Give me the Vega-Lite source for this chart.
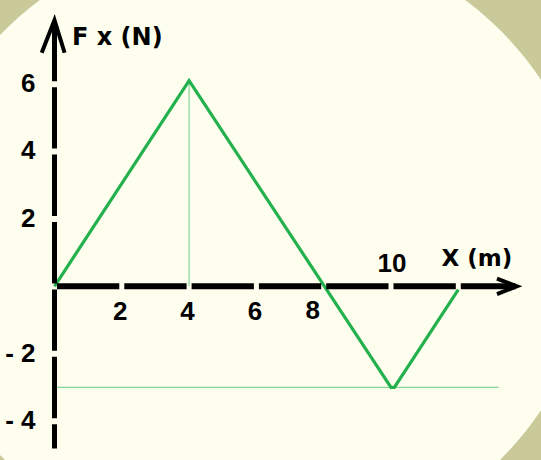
{
  "$schema": "https://vega.github.io/schema/vega-lite/v6.json",
  "width": 541,
  "height": 460,
  "autosize": {"type": "none"},
  "padding": 0,
  "background": "#c9c99a",
  "config": {"view": {"stroke": null}},
  "datasets": {
    "bg": [{"x": 5.884, "y": 1.226}],
    "force": [
      {"x": 0, "y": 0},
      {"x": 4, "y": 6.1},
      {"x": 10, "y": -3},
      {"x": 10.1, "y": -3},
      {"x": 12, "y": -0.1}
    ],
    "guides": [
      {"x": 4, "x2": 4, "y": 0, "y2": 6.1},
      {"x": 0, "x2": 13.2, "y": -3, "y2": -3}
    ],
    "xaxis": [{"x": 0, "x2": 13.7, "y": 0}],
    "yaxis": [{"x": 0, "y": -4.81, "y2": 7.85}],
    "arrows": [
      {"arrow": "y", "i": 1, "x": -0.38, "y": 6.93},
      {"arrow": "y", "i": 2, "x": 0, "y": 7.9},
      {"arrow": "y", "i": 3, "x": 0.3, "y": 6.93},
      {"arrow": "x", "i": 1, "x": 13.15, "y": 0.23},
      {"arrow": "x", "i": 2, "x": 13.74, "y": 0},
      {"arrow": "x", "i": 3, "x": 13.15, "y": -0.23}
    ],
    "ylabels": [
      {"x": 0, "y": 6, "label": "6"},
      {"x": 0, "y": 4, "label": "4"},
      {"x": 0, "y": 2, "label": "2"},
      {"x": 0, "y": -2, "label": "- 2"},
      {"x": 0, "y": -4, "label": "- 4"}
    ],
    "xlabels": [
      {"x": 2, "y": 0, "label": "2"},
      {"x": 4, "y": 0, "label": "4"},
      {"x": 6, "y": 0, "label": "6"}
    ],
    "x8": [{"x": 8, "y": 0, "label": "8"}],
    "x10": [{"x": 10, "y": 0, "label": "10"}],
    "xtitle": [{"x": 11.5, "y": 0, "label": "X (m)"}],
    "ytitle": [{"x": 0, "y": 7.9, "label": "F x (N)"}]
  },
  "encoding": {
    "x": {"field": "x", "type": "quantitative", "axis": null, "scale": {"domain": [-1.6196, 14.4577], "nice": false, "zero": false}},
    "y": {"field": "y", "type": "quantitative", "axis": null, "scale": {"domain": [-5.1543, 8.4955], "nice": false, "zero": false}}
  },
  "layer": [
    {
      "data": {"name": "bg"},
      "mark": {"type": "point", "shape": "M-1,0A1,0.928,0,1,0,1,0A1,0.928,0,1,0,-1,0Z", "filled": true, "fill": "#fdfeee", "opacity": 1, "strokeWidth": 0, "size": 459684}
    },
    {
      "data": {"name": "guides"},
      "mark": {"type": "rule", "color": "#86d69a", "strokeWidth": 1.2},
      "encoding": {"x2": {"field": "x2"}, "y2": {"field": "y2"}}
    },
    {
      "data": {"name": "force"},
      "mark": {"type": "line", "color": "#22b14c", "strokeWidth": 3.2}
    },
    {
      "data": {"name": "xaxis"},
      "mark": {"type": "rule", "color": "black", "strokeWidth": 6, "strokeDash": [62.3, 5], "strokeDashOffset": 64.8},
      "encoding": {"x2": {"field": "x2"}}
    },
    {
      "data": {"name": "yaxis"},
      "mark": {"type": "rule", "color": "black", "strokeWidth": 5, "strokeDash": [61.4, 6], "strokeDashOffset": 37.2},
      "encoding": {"y2": {"field": "y2"}}
    },
    {
      "data": {"name": "arrows"},
      "mark": {"type": "line", "color": "black", "strokeWidth": 4, "strokeJoin": "miter"},
      "encoding": {"detail": {"field": "arrow"}, "order": {"field": "i"}}
    },
    {
      "data": {"name": "ylabels"},
      "mark": {"type": "text", "align": "right", "baseline": "middle", "dx": -19, "font": "Liberation Sans", "fontWeight": "bold", "fontSize": 26, "color": "black"},
      "encoding": {"text": {"field": "label"}}
    },
    {
      "data": {"name": "xlabels"},
      "mark": {"type": "text", "align": "center", "baseline": "middle", "dx": -1.5, "dy": 25.5, "font": "Liberation Sans", "fontWeight": "bold", "fontSize": 26, "color": "black"},
      "encoding": {"text": {"field": "label"}}
    },
    {
      "data": {"name": "x8"},
      "mark": {"type": "text", "align": "center", "baseline": "middle", "dx": -11, "dy": 25, "font": "Liberation Sans", "fontWeight": "bold", "fontSize": 26, "color": "black"},
      "encoding": {"text": {"field": "label"}}
    },
    {
      "data": {"name": "x10"},
      "mark": {"type": "text", "align": "center", "baseline": "middle", "dx": 1, "dy": -22, "font": "Liberation Sans", "fontWeight": "bold", "fontSize": 26, "color": "black"},
      "encoding": {"text": {"field": "label"}}
    },
    {
      "data": {"name": "xtitle"},
      "mark": {"type": "text", "align": "left", "baseline": "middle", "dy": -27, "font": "DejaVu Sans", "fontWeight": "bold", "fontSize": 23, "color": "black"},
      "encoding": {"text": {"field": "label"}}
    },
    {
      "data": {"name": "ytitle"},
      "mark": {"type": "text", "align": "left", "baseline": "middle", "dx": 17.5, "dy": 18, "font": "DejaVu Sans", "fontWeight": "bold", "fontSize": 24, "color": "black"},
      "encoding": {"text": {"field": "label"}}
    }
  ]
}
